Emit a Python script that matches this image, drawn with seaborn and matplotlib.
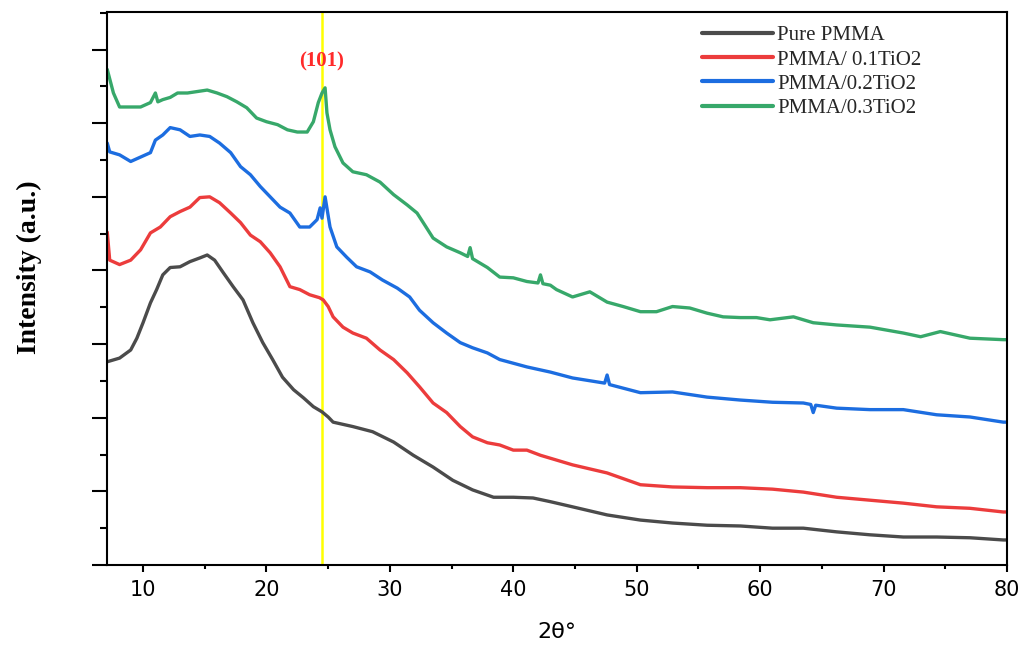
import matplotlib
matplotlib.use("Agg")
import matplotlib.pyplot as plt
from matplotlib.ticker import MultipleLocator, NullFormatter
import seaborn as sns
import pandas as pd

# ---- data (2theta in degrees, intensity in arbitrary units) ----
x_pure = [7.1, 8.1, 9.0, 9.5, 10.0, 10.6, 11.1, 11.6, 12.2, 13.0, 13.8, 14.6, 15.2, 15.8,
          16.5, 17.3, 18.1, 18.9, 19.7, 20.5, 21.3, 22.2, 23.0, 23.8, 24.5, 25.0, 25.4,
          27.0, 28.6, 30.3, 31.9, 33.5, 35.1, 36.7, 38.4, 40.0, 41.6, 43.0, 44.8, 47.6,
          50.3, 52.9, 55.7, 58.4, 61.0, 63.5, 66.2, 68.9, 71.6, 74.3, 77.0, 79.7, 80.0]
y_pure = [2.76, 2.81, 2.92, 3.08, 3.29, 3.56, 3.74, 3.94, 4.04, 4.05, 4.12, 4.17, 4.21, 4.14,
          3.97, 3.78, 3.60, 3.29, 3.02, 2.79, 2.55, 2.38, 2.27, 2.15, 2.08, 2.01, 1.94,
          1.88, 1.81, 1.67, 1.49, 1.33, 1.15, 1.02, 0.92, 0.92, 0.91, 0.86, 0.79, 0.68,
          0.61, 0.57, 0.54, 0.53, 0.50, 0.50, 0.45, 0.41, 0.38, 0.38, 0.37, 0.34, 0.34]

x_01 = [7.1, 7.3, 8.1, 9.0, 9.8, 10.6, 11.4, 12.2, 13.0, 13.8, 14.6, 15.4, 16.2, 17.1,
        17.9, 18.7, 19.5, 20.3, 21.1, 21.9, 22.7, 23.5, 24.3, 24.6, 25.0, 25.4, 26.2,
        27.0, 28.1, 29.2, 30.3, 31.4, 32.4, 33.5, 34.6, 35.7, 36.7, 37.9, 38.9, 40.0,
        41.1, 42.2, 43.0, 44.8, 47.6, 50.3, 52.9, 55.7, 58.4, 61.0, 63.5, 66.2, 68.9,
        71.6, 74.3, 77.0, 79.7, 80.0]
y_01 = [4.52, 4.14, 4.08, 4.14, 4.28, 4.51, 4.59, 4.73, 4.80, 4.86, 4.99, 5.00, 4.92, 4.78,
        4.65, 4.48, 4.39, 4.24, 4.05, 3.78, 3.74, 3.67, 3.63, 3.60, 3.51, 3.37, 3.23,
        3.15, 3.08, 2.92, 2.79, 2.61, 2.42, 2.20, 2.07, 1.88, 1.74, 1.66, 1.63, 1.56,
        1.56, 1.49, 1.45, 1.36, 1.25, 1.09, 1.06, 1.05, 1.05, 1.03, 0.99, 0.92, 0.88,
        0.84, 0.79, 0.77, 0.72, 0.72]

x_02 = [7.1, 7.3, 8.1, 9.0, 9.8, 10.6, 11.0, 11.6, 12.2, 13.0, 13.8, 14.6, 15.4, 16.2,
        17.1, 17.9, 18.7, 19.5, 20.3, 21.1, 21.9, 22.7, 23.5, 24.1, 24.35, 24.5, 24.75,
        25.15, 25.7, 26.5, 27.3, 28.4, 29.4, 30.6, 31.6, 32.4, 33.5, 34.6, 35.7, 36.7,
        37.9, 38.9, 40.0, 41.1, 43.0, 44.8, 47.4, 47.6, 47.8, 50.3, 52.9, 55.7, 58.4,
        61.0, 63.5, 64.1, 64.3, 64.5, 66.2, 68.9, 71.6, 74.3, 77.0, 79.7, 80.0]
y_02 = [5.73, 5.61, 5.57, 5.48, 5.54, 5.60, 5.77, 5.84, 5.94, 5.91, 5.82, 5.84, 5.82, 5.73,
        5.60, 5.41, 5.30, 5.14, 5.00, 4.86, 4.78, 4.59, 4.59, 4.69, 4.85, 4.71, 5.00,
        4.59, 4.32, 4.18, 4.05, 3.98, 3.87, 3.76, 3.64, 3.46, 3.29, 3.15, 3.02, 2.95,
        2.88, 2.79, 2.74, 2.69, 2.62, 2.54, 2.47, 2.58, 2.45, 2.34, 2.35, 2.28, 2.24,
        2.21, 2.20, 2.18, 2.07, 2.17, 2.13, 2.11, 2.11, 2.04, 2.01, 1.94, 1.94]

x_03 = [7.1, 7.6, 8.1, 9.0, 9.8, 10.6, 11.0, 11.2, 11.6, 12.2, 12.8, 13.6, 14.4, 15.2,
        16.0, 16.8, 17.6, 18.4, 19.2, 20.0, 20.9, 21.7, 22.5, 23.3, 23.8, 24.2, 24.5,
        24.75, 24.9, 25.15, 25.55, 26.2, 27.0, 28.1, 29.2, 30.3, 31.4, 32.2, 32.7, 33.5,
        34.6, 35.7, 36.3, 36.5, 36.7, 37.9, 38.9, 40.0, 41.1, 42.0, 42.2, 42.4, 43.0,
        43.5, 44.8, 46.2, 47.6, 48.9, 50.3, 51.6, 52.9, 54.3, 55.7, 57.0, 58.4, 59.7,
        60.8, 62.7, 64.3, 66.2, 68.9, 71.6, 73.0, 74.6, 77.0, 79.7, 80.0]
y_03 = [6.73, 6.41, 6.22, 6.22, 6.22, 6.28, 6.41, 6.29, 6.32, 6.35, 6.41, 6.41, 6.43, 6.45,
        6.41, 6.36, 6.29, 6.21, 6.07, 6.02, 5.98, 5.91, 5.88, 5.88, 6.02, 6.28, 6.41,
        6.48, 6.14, 5.91, 5.68, 5.46, 5.34, 5.30, 5.20, 5.03, 4.89, 4.78, 4.65, 4.44,
        4.32, 4.24, 4.19, 4.31, 4.16, 4.04, 3.91, 3.90, 3.85, 3.83, 3.94, 3.82, 3.80,
        3.74, 3.64, 3.71, 3.57, 3.51, 3.44, 3.44, 3.51, 3.49, 3.42, 3.37, 3.36, 3.36,
        3.33, 3.37, 3.29, 3.26, 3.23, 3.15, 3.10, 3.17, 3.08, 3.06, 3.06]

labels = ["Pure PMMA", "PMMA/ 0.1TiO2", "PMMA/0.2TiO2", "PMMA/0.3TiO2"]
colors = ["#4b4b4b", "#ec3c3c", "#1c6de0", "#37a86a"]
peak_pos = 24.5
peak_label = "(101)"
x_ticks = [10, 20, 30, 40, 50, 60, 70, 80]

frames = []
for lab, xs, ys in zip(labels, [x_pure, x_01, x_02, x_03], [y_pure, y_01, y_02, y_03]):
    frames.append(pd.DataFrame({"2theta": xs, "I": ys, "sample": lab}))
df = pd.concat(frames, ignore_index=True)

sns.set_style("ticks")
fig = plt.figure(figsize=(10.22, 6.47), dpi=100)
ax = fig.add_axes([107/1022, 1-565/647, 900/1022, 553/647])

sns.lineplot(data=df, x="2theta", y="I", hue="sample", hue_order=labels,
             palette=dict(zip(labels, colors)), sort=False, estimator=None,
             linewidth=2.4, ax=ax)

ax.axvline(peak_pos, color="#ffff00", linewidth=1.8, zorder=0)
ax.text(peak_pos, 6.84, peak_label, color="#ff2a2a", fontsize=15, fontweight="bold",
        family="Liberation Serif", ha="center", va="center")

ax.set_xlim(7.08, 80)
ax.set_ylim(0, 7.51)
ax.set_xticks(x_ticks)
ax.xaxis.set_minor_locator(MultipleLocator(5))
ax.yaxis.set_major_locator(MultipleLocator(1))
ax.yaxis.set_minor_locator(MultipleLocator(0.5))
ax.yaxis.set_major_formatter(NullFormatter())
ax.tick_params(axis="both", which="both", color="black", labelcolor="black")
ax.tick_params(axis="y", which="major", direction="out", length=10.5, width=1.5, left=True, right=False)
ax.tick_params(axis="y", which="minor", direction="out", length=5, width=1.5, left=True, right=False)
ax.tick_params(axis="x", which="major", direction="out", length=5, width=1.5, pad=6,
               labelsize=15, top=False)
ax.tick_params(axis="x", which="minor", direction="out", length=3, width=1.5, top=False)
for lab in ax.get_xticklabels():
    lab.set_family("DejaVu Sans")

for sp in ax.spines.values():
    sp.set_visible(True)
    sp.set_linewidth(1.5)
    sp.set_color("black")

ax.set_xlabel("2θ°", fontsize=16, family="DejaVu Sans", labelpad=16, color="black")
ax.set_ylabel("Intensity (a.u.)", fontsize=20, fontweight="bold", family="Liberation Serif",
              color="black")
ax.yaxis.set_label_coords((42 - 107) / 900, (565 - 267) / 553)

leg = ax.legend(loc="upper left", bbox_to_anchor=(0.661, 0.975), frameon=False,
                borderpad=0, borderaxespad=0, handlelength=3.4, handletextpad=0.2,
                labelspacing=0.22, prop={"family": "Liberation Serif", "size": 15})
for line in leg.get_lines():
    line.set_linewidth(3)

fig.savefig("out.png", dpi=100)
